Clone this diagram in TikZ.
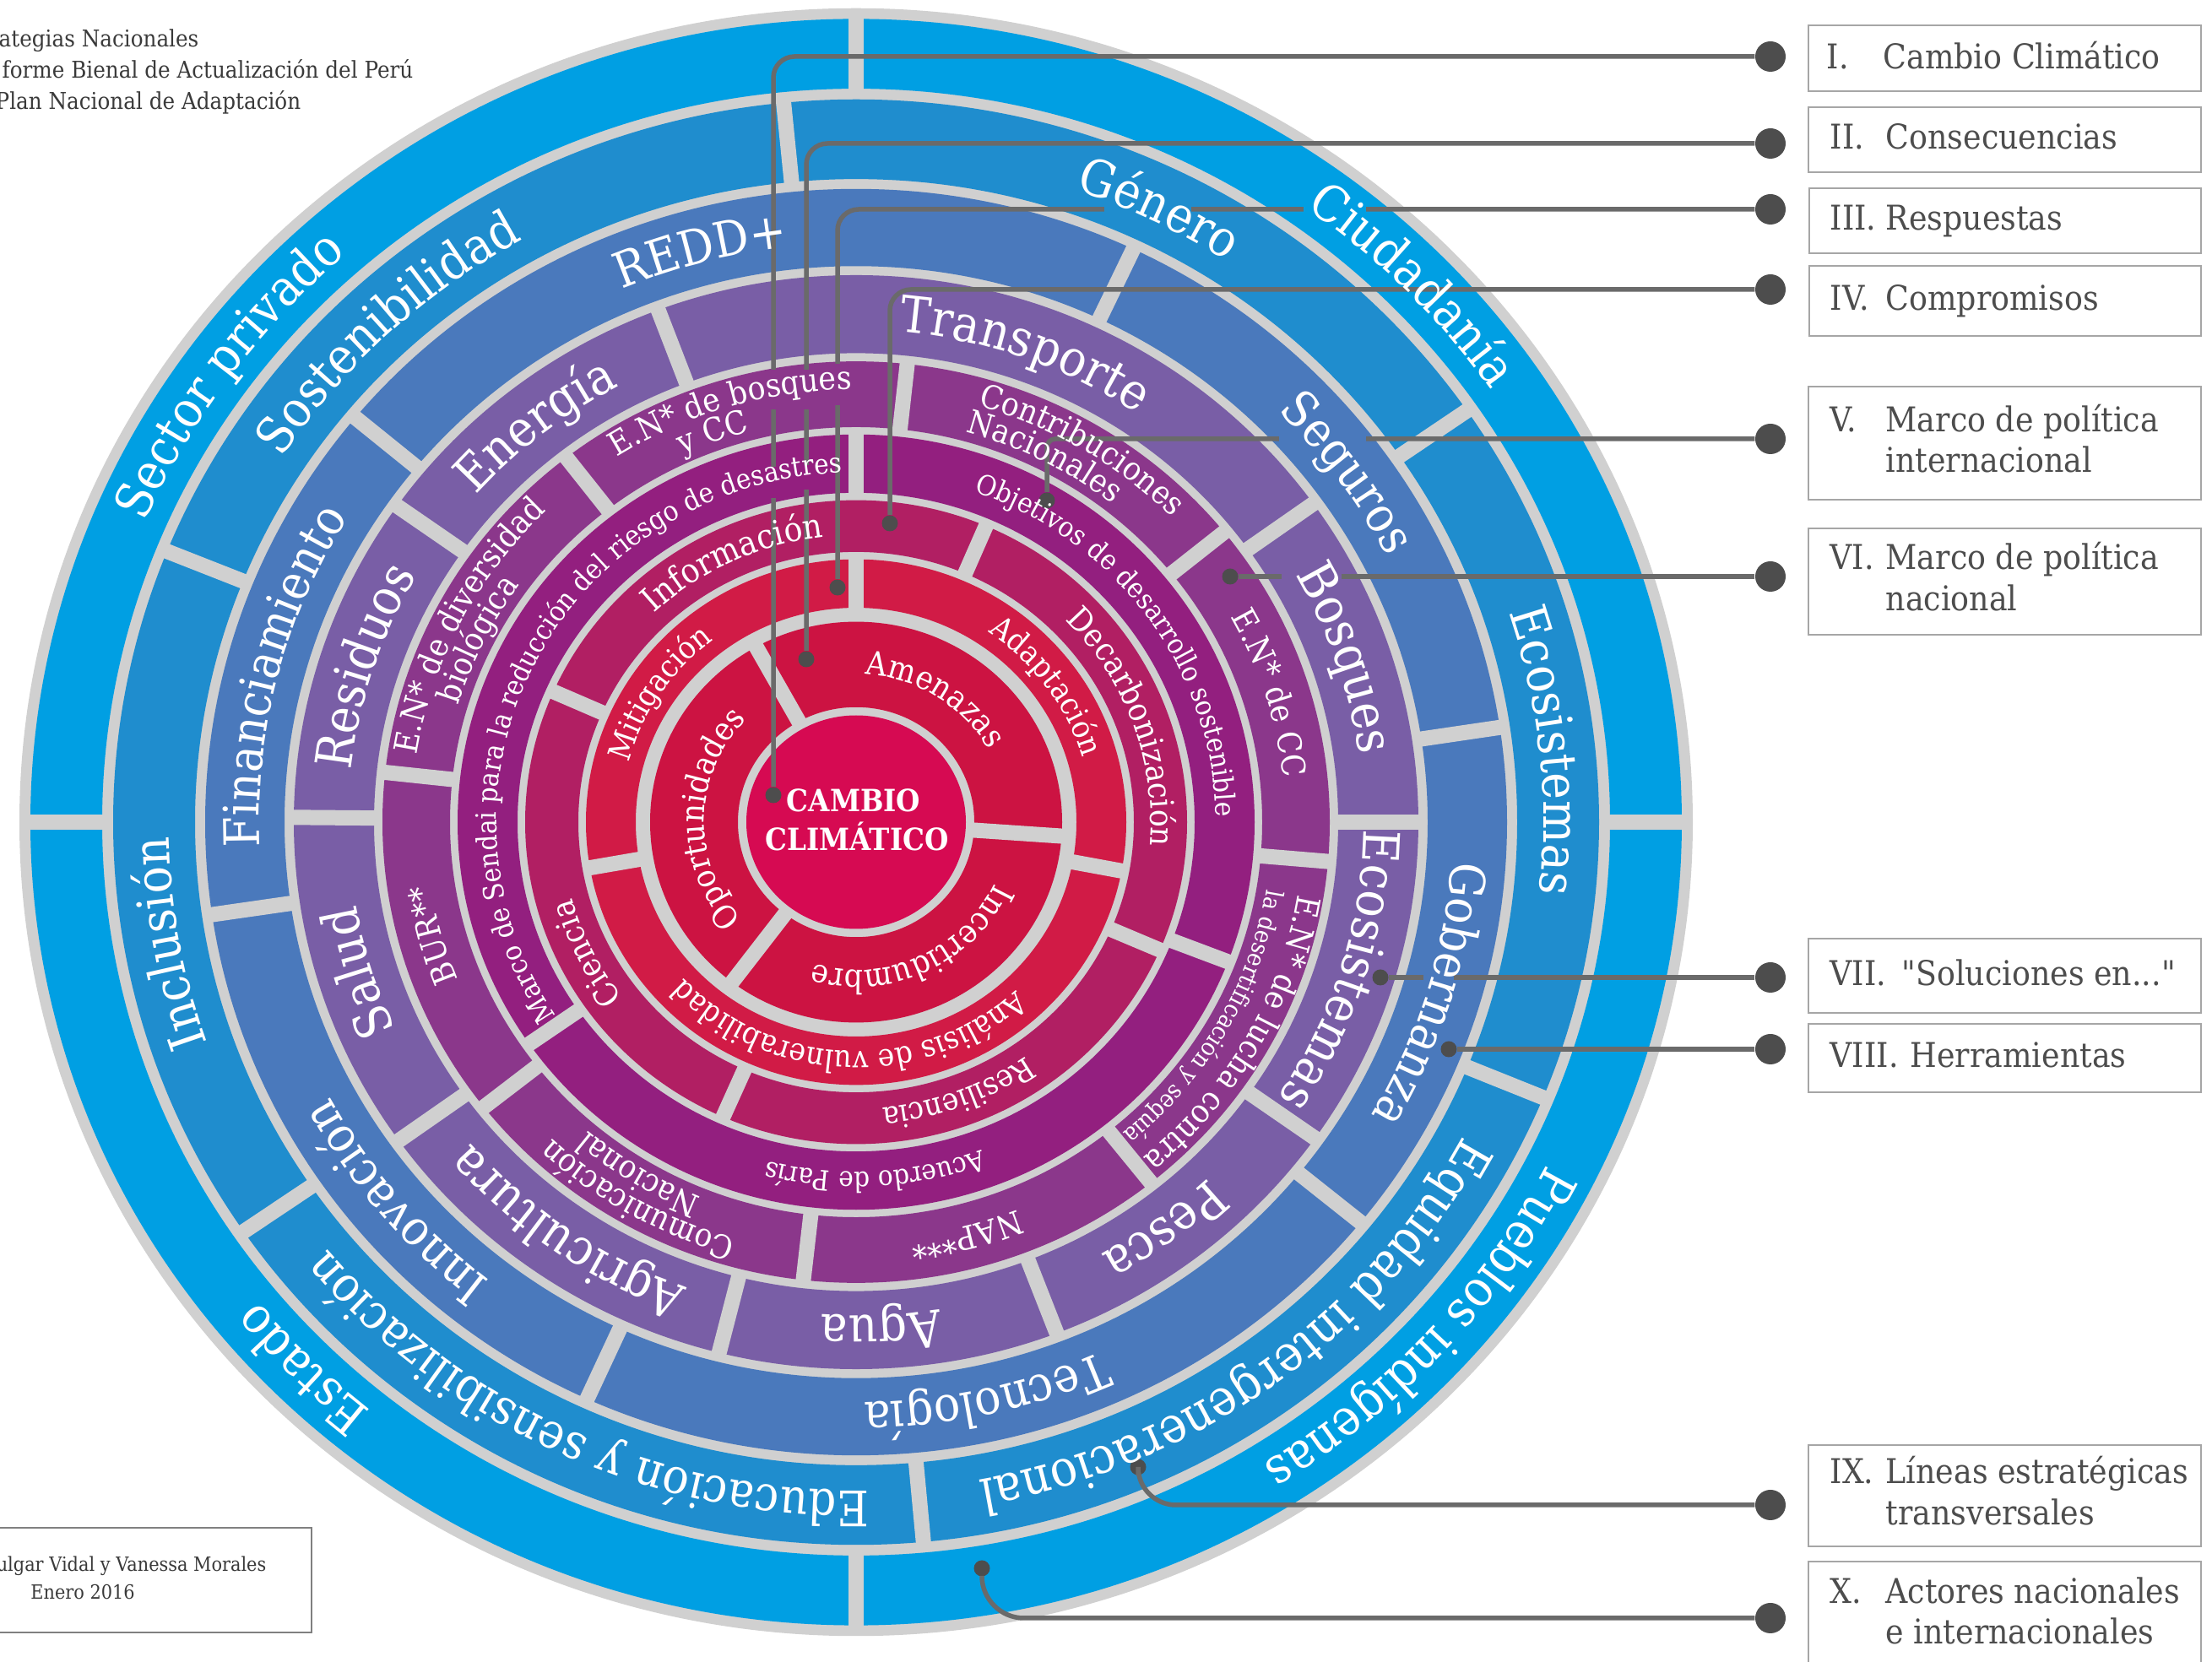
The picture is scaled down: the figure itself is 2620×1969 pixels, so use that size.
\documentclass[tikz,border=0pt]{standalone}
\usepackage{fontspec}
\setmainfont{DejaVu Serif}[FakeStretch=0.9]
\newfontfamily\quotefont{DejaVu Serif}[FakeStretch=0.9,Ligatures=ResetAll]
\usetikzlibrary{decorations.text}
\definecolor{cg}{HTML}{D0D0D0}
\definecolor{c1}{HTML}{D60A52}
\definecolor{c2}{HTML}{CC1342}
\definecolor{c3}{HTML}{D11B46}
\definecolor{c4}{HTML}{B11F63}
\definecolor{c5}{HTML}{931F7F}
\definecolor{c6}{HTML}{8B378B}
\definecolor{c7}{HTML}{795EA6}
\definecolor{c8}{HTML}{4A79BC}
\definecolor{c9}{HTML}{1F8DCE}
\definecolor{c10}{HTML}{009FE3}
\definecolor{lc}{HTML}{6A6A6A}
\definecolor{dc}{HTML}{4D4D4D}
\definecolor{tc}{HTML}{4D4D4D}
\definecolor{bc}{HTML}{A6A6A6}
\definecolor{tk}{HTML}{3A3A3A}
\newcommand\ringtext[4]{\path[decorate,decoration={text along path,text align=center,text={|\fontsize{#3}{#3}\selectfont\color{white}|#4}}] ({#2+80}:#1) arc[start angle={#2+80},end angle={#2-80},radius=#1];}
\newcommand\ringfill[3]{\fill[#1,even odd rule] (0,0) circle (#3) (0,0) circle (#2);}
\newcommand\divs[3]{\foreach \ang in {#3} \draw[dvs] (\ang:#1) -- (\ang:#2);}
\tikzset{
 dvs/.style={draw=cg,line width=1.8mm},
 ldot/.style={circle,fill=dc,minimum size=3.6mm,inner sep=0},
 edot/.style={circle,fill=dc,minimum size=1.9mm,inner sep=0},
 conn/.style={draw=lc,line width=0.55mm,rounded corners=2.5mm},
 legbox/.style={draw=bc,line width=0.22mm},
 legtxt/.style={anchor=base west,inner sep=0,text=tc,font=\fontsize{11.5}{13}\selectfont},
 smalltxt/.style={inner sep=0,text=tk,font=\fontsize{7.8}{9}\selectfont},
 ringscope/.style={shift={(1014,995)},yscale=0.973},
}
\begin{document}
\begin{tikzpicture}[x=0.1mm,y=0.1mm]
\useasboundingbox (0,0) rectangle (2620,1969);
\fill[white] (0,0) rectangle (2620,1969);
\begin{scope}[ringscope]
 \fill[cg] (0,0) circle (991);
 \ringfill{c10}{893}{978}
 \ringfill{c9}{783}{880}
 \ringfill{c8}{677}{771}
 \ringfill{c7}{571}{666}
 \ringfill{c6}{481}{561}
 \ringfill{c5}{401}{472}
 \ringfill{c4}{329}{392}
 \ringfill{c3}{261}{320}
 \ringfill{c2}{140}{244}
 \fill[c1] (0,0) circle (130);
 \divs{886}{985}{0,90,180,270}
 \divs{777}{886}{95.6,34.7,-22.4,-84.8,214.5,158}
 \divs{672}{776}{64.8,8.6,-39.2,245.6,188.4,140.3}
 \divs{566}{671}{110.6,144.7,179.5,215.6,255.9,-69.1,-35.3,0,35.6}
 \divs{476}{566}{127.7,173.8,218.2,263.6,-51.5,-4.9,39,83.8}
 \divs{396}{477}{90,214.9,-21.1}
 \divs{324}{397}{66.9,-23.4,246.3,156.1}
 \divs{254}{325}{90,-10.7,190}
 \divs{134}{250}{119,-4,233}
\end{scope}
% legend dots and end dots
\node[ldot] (dI) at (2097,1969-67) {};
\node[ldot] (dII) at (2097,1969-170) {};
\node[ldot] (dIII) at (2097,1969-248) {};
\node[ldot] (dIV) at (2097,1969-343) {};
\node[ldot] (dV) at (2097,1969-520) {};
\node[ldot] (dVI) at (2097,1969-683) {};
\node[ldot] (dVII) at (2097,1969-1158) {};
\node[ldot] (dVIII) at (2097,1969-1243) {};
\node[ldot] (dIX) at (2097,1969-1783) {};
\node[ldot] (dX) at (2097,1969-1917) {};
\node[edot] (eI) at (916,1969-942) {};
\node[edot] (eII) at (955,1969-781) {};
\node[edot] (eIII) at (992,1969-696) {};
\node[edot] (eIV) at (1054,1969-620) {};
\node[edot] (eV) at (1240,1969-593) {};
\node[edot] (eVI) at (1457,1969-683) {};
\node[edot] (eVII) at (1635,1969-1158) {};
\node[edot] (eVIII) at (1716,1969-1243) {};
\node[edot] (eIX) at (1348,1969-1738) {};
\node[edot] (eX) at (1163,1969-1858) {};
\draw[conn] (dI) -| (eI);
\draw[conn] (dII) -| (eII);
\draw[conn] (dIII) -| (eIII);
\draw[conn] (dIV) -| (eIV);
\draw[conn,rounded corners=1mm] (dV) -| (eV);
\draw[conn] (dVI) -- (eVI);
\draw[conn] (dVII) -- (eVII);
\draw[conn] (dVIII) -- (eVIII);
\draw[conn,rounded corners=4.5mm] (dIX) -| (eIX);
\draw[conn,rounded corners=5mm] (dX) -| (eX);
% knock-out gaps of the connectors behind labels
\fill[c6] (908,1969-438) rectangle (924,1969-485);
\fill[c6] (947,1969-438) rectangle (963,1969-485);
\fill[c6] (984,1969-431) rectangle (1000,1969-480);
\fill[c5] (908,1969-553) rectangle (924,1969-590);
\fill[c5] (947,1969-551) rectangle (963,1969-580);
\fill[c9] (1308,1969-240) rectangle (1411,1969-256);
\fill[c10] (1544,1969-240) rectangle (1618,1969-256);
\fill[c8] (1515,1969-512) rectangle (1618,1969-528);
\fill[c7] (1518,1969-675) rectangle (1589,1969-691);
\fill[c8] (1686,1969-1150) rectangle (1722,1969-1166);
% ring labels
\begin{scope}[ringscope]
 \ringtext{918}{144.5}{17}{Sector privado}
 \ringtext{918}{44}{17}{Ciudadanía}
 \ringtext{918}{-42}{17}{Pueblos indígenas}
 \ringtext{918}{224.6}{17}{Estado}
 \ringtext{812}{133.7}{17}{Sostenibilidad}
 \ringtext{812}{63.7}{17}{Género}
 \ringtext{814}{5.9}{17}{Ecosistemas}
 \ringtext{814}{-53.3}{17}{Equidad intergeneracional}
 \ringtext{814}{244.9}{16.5}{Educación y sensibilización}
 \ringtext{814}{190}{17}{Inclusión}
 \ringtext{705}{105.2}{16.5}{REDD+}
 \ringtext{707}{35.4}{16.5}{Seguros}
 \ringtext{707}{-16.7}{16.5}{Gobernanza}
 \ringtext{707}{-77.2}{16.5}{Tecnología}
 \ringtext{707}{219.5}{16.5}{Innovación}
 \ringtext{707}{165.7}{16.5}{Financiamiento}
 \ringtext{601}{128.9}{17}{Energía}
 \ringtext{599}{70.2}{17}{Transporte}
 \ringtext{601}{18.5}{17}{Bosques}
 \ringtext{601}{-17}{17}{Ecosistemas}
 \ringtext{601}{-52.9}{17}{Pesca}
 \ringtext{601}{272.8}{17}{Agua}
 \ringtext{601}{234.9}{17}{Agricultura}
 \ringtext{601}{196.8}{17}{Salud}
 \ringtext{601}{162.4}{17}{Residuos}
 \ringtext{527}{106.9}{11}{E.N* de bosques}
 \ringtext{492}{110.2}{11}{y CC}
 \ringtext{527}{153.1}{11}{E.N* de diversidad}
 \ringtext{492}{154.2}{11}{biológica}
 \ringtext{509}{195}{11}{BUR**}
 \ringtext{527}{240}{11}{Comunicación}
 \ringtext{492}{238.3}{11}{Nacional}
 \ringtext{509}{285}{11}{NAP***}
 \ringtext{531}{-29.3}{11}{E.N* de lucha contra}
 \ringtext{493}{-29.3}{8.2}{la desertificación y sequía}
 \ringtext{509}{17.3}{11}{E.N* de CC}
 \ringtext{527}{58.8}{11}{Contribuciones}
 \ringtext{492}{62.7}{11}{Nacionales}
 \ringtext{426}{153}{9.4}{Marco de Sendai para la reducción del riesgo de desastres}
 \ringtext{426}{35.4}{9.4}{Objetivos de desarrollo sostenible}
 \ringtext{426}{273.1}{9.4}{Acuerdo de París}
 \ringtext{349}{115.3}{11.5}{Información}
 \ringtext{349}{19.6}{11}{Decarbonización}
 \ringtext{349}{290.6}{10.5}{Resiliencia}
 \ringtext{349}{205.9}{11}{Ciencia}
 \ringtext{279}{146.7}{10.5}{Mitigación}
 \ringtext{279}{35.5}{10.5}{Adaptación}
 \ringtext{279}{267.8}{10.5}{Análisis de vulnerabilidad}
 \ringtext{180}{57.5}{11}{Amenazas}
 \ringtext{180}{295}{11}{Incertidumbre}
 \ringtext{180}{178.6}{11}{Oportunidades}
\end{scope}
\node[anchor=base,inner sep=0,text=white,font=\bfseries\fontsize{10.3}{12}\selectfont] (cc1) at (1011,1969-962) {CAMBIO};
\node[anchor=base,inner sep=0,text=white,font=\bfseries\fontsize{10.3}{12}\selectfont] (cc2) at (1015,1969-1008) {CLIMÁTICO};
% legend boxes
\draw[legbox] (2142,1969-30) rectangle (2607,1969-108);
\draw[legbox] (2142,1969-127) rectangle (2607,1969-204);
\draw[legbox] (2143,1969-223) rectangle (2607,1969-300);
\draw[legbox] (2143,1969-315) rectangle (2607,1969-398);
\draw[legbox] (2142,1969-458) rectangle (2607,1969-592);
\draw[legbox] (2142,1969-626) rectangle (2607,1969-752);
\draw[legbox] (2142,1969-1112) rectangle (2607,1969-1200);
\draw[legbox] (2142,1969-1213) rectangle (2607,1969-1294);
\draw[legbox] (2142,1969-1712) rectangle (2607,1969-1832);
\draw[legbox] (2142,1969-1850) rectangle (2607,1969-1990);
\node[legtxt] (nI) at (2163,1969-82) {I.};
\node[legtxt] (tI) at (2230,1969-82) {Cambio Climático};
\node[legtxt] (nII) at (2167,1969-177) {II.};
\node[legtxt] (tII) at (2233,1969-177) {Consecuencias};
\node[legtxt] (nIII) at (2167,1969-273) {III.};
\node[legtxt] (tIII) at (2233,1969-273) {Respuestas};
\node[legtxt] (nIV) at (2167,1969-368) {IV.};
\node[legtxt] (tIV) at (2233,1969-368) {Compromisos};
\node[legtxt] (nV) at (2167,1969-512) {V.};
\node[legtxt] (tV) at (2233,1969-512) {Marco de política};
\node[legtxt] (tVb) at (2233,1969-560) {internacional};
\node[legtxt] (nVI) at (2167,1969-675) {VI.};
\node[legtxt] (tVI) at (2233,1969-675) {Marco de política};
\node[legtxt] (tVIb) at (2233,1969-724) {nacional};
\node[legtxt] (nVII) at (2167,1969-1168) {VII.};
\node[legtxt] (tVII) at (2252,1969-1168) {\quotefont"Soluciones en..."};
\node[legtxt] (nVIII) at (2167,1969-1265) {VIII.};
\node[legtxt] (tVIII) at (2262,1969-1265) {Herramientas};
\node[legtxt] (nIX) at (2167,1969-1758) {IX.};
\node[legtxt] (tIX) at (2233,1969-1758) {Líneas estratégicas};
\node[legtxt] (tIXb) at (2233,1969-1807) {transversales};
\node[legtxt] (nX) at (2167,1969-1900) {X.};
\node[legtxt] (tX) at (2233,1969-1900) {Actores nacionales};
\node[legtxt] (tXb) at (2233,1969-1948) {e internacionales};
% top-left notes
\node[smalltxt,anchor=base west] (f1) at (-2,1969-56) {ategias Nacionales};
\node[smalltxt,anchor=base west] (f2) at (2,1969-93) {forme Bienal de Actualización del Perú};
\node[smalltxt,anchor=base west] (f3) at (-6,1969-130) {Plan Nacional de Adaptación};
% bottom-left credit box
\draw[legbox,draw=gray] (-10,1969-1810) rectangle (369,1969-1934);
\node[inner sep=0,text=tk,font=\fontsize{6.6}{8}\selectfont,anchor=base east] (cr1) at (316,1969-1862) {ulgar Vidal y Vanessa Morales};
\node[inner sep=0,text=tk,font=\fontsize{6.6}{8}\selectfont,anchor=base] (cr2) at (98,1969-1895) {Enero 2016};
\end{tikzpicture}
\end{document}
